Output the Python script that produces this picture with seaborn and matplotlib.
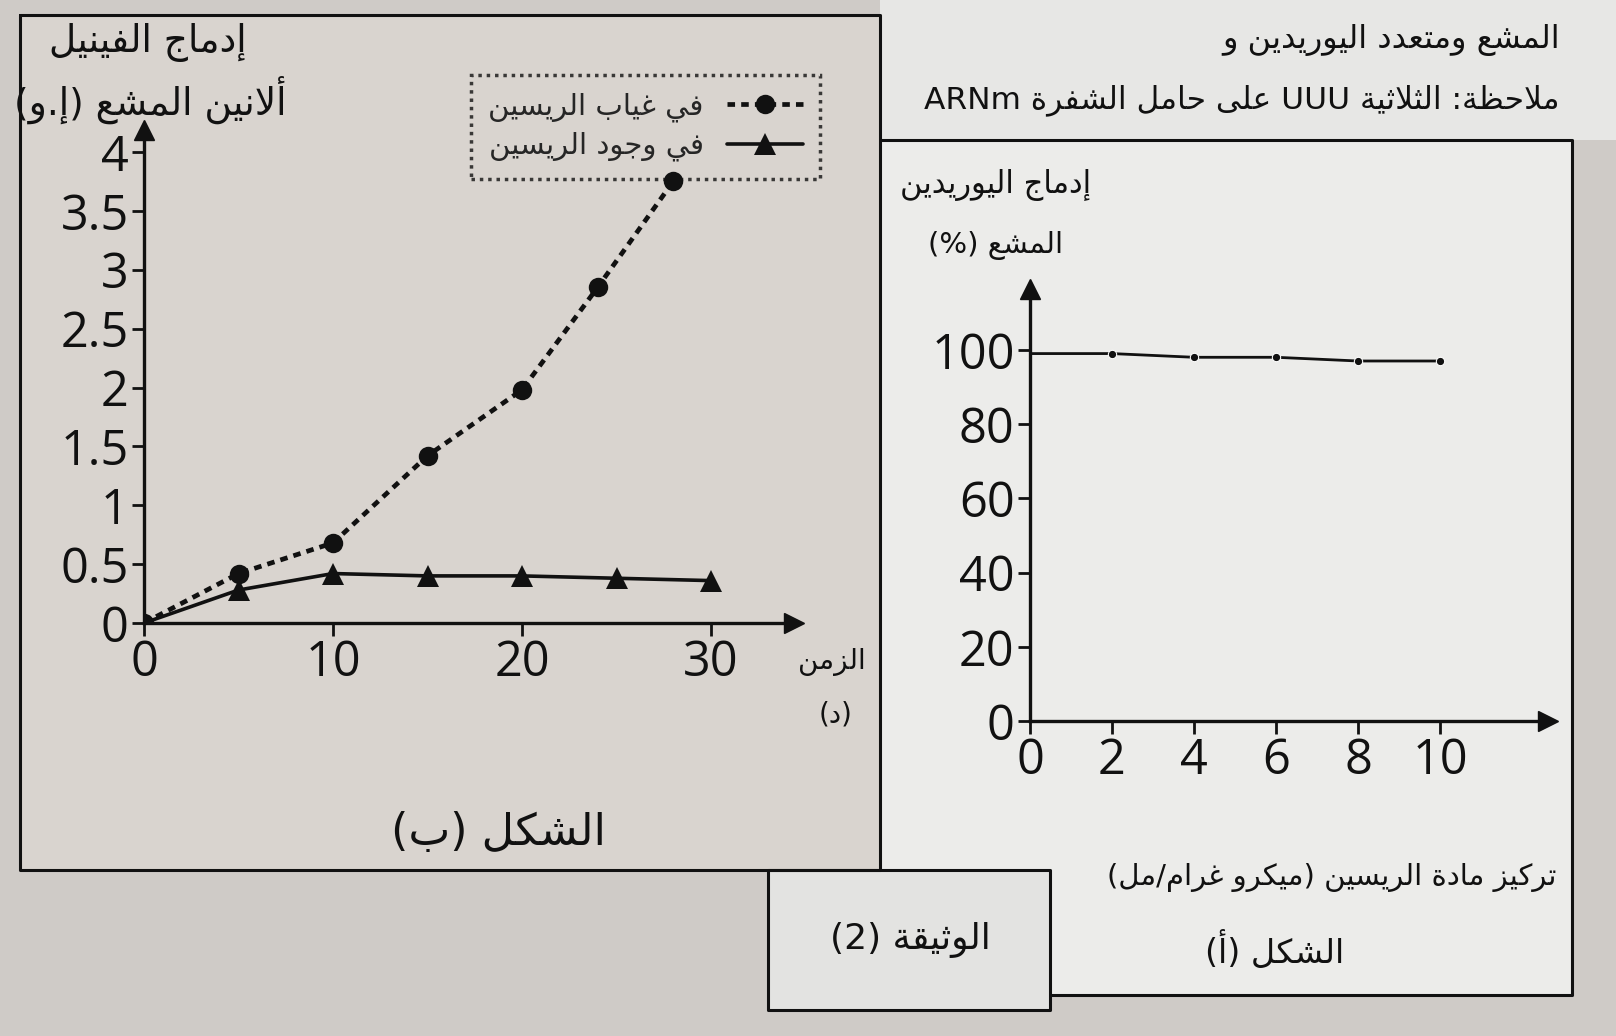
import re
import matplotlib
matplotlib.use("Agg")
import matplotlib.pyplot as plt
from matplotlib.patches import Rectangle, Polygon
from matplotlib.lines import Line2D
import seaborn as sns

# ---------------- data ----------------
# figure (b): radioactive phenylalanine incorporation (a.u.) versus time (min)
time_no_ricin = [0, 5, 10, 15, 20, 24, 28]
phe_no_ricin = [0, 0.42, 0.68, 1.42, 1.98, 2.85, 3.75]
time_ricin = [0, 5, 10, 15, 20, 25, 30]
phe_ricin = [0, 0.28, 0.42, 0.40, 0.40, 0.38, 0.36]
phe_yticks = [0, 0.5, 1, 1.5, 2, 2.5, 3, 3.5, 4]
phe_yticklabels = ["0", "0.5", "1", "1.5", "2", "2.5", "3", "3.5", "4"]
time_xticks = [0, 10, 20, 30]

# figure (a): radioactive uridine incorporation (%) versus ricin concentration
ricin_conc = [0, 2, 4, 6, 8, 10]
uridine_pct = [99, 99, 98, 98, 97, 97]
uridine_yticks = [0, 20, 40, 60, 80, 100]
conc_xticks = [0, 2, 4, 6, 8, 10]

# ---------------- minimal Arabic shaping / visual ordering ----------------
_FORMS = {
    "ء": (0xFE80, 1), "آ": (0xFE81, 2), "أ": (0xFE83, 2), "ؤ": (0xFE85, 2),
    "إ": (0xFE87, 2), "ئ": (0xFE89, 4), "ا": (0xFE8D, 2), "ب": (0xFE8F, 4),
    "ة": (0xFE93, 2), "ت": (0xFE95, 4), "ث": (0xFE99, 4), "ج": (0xFE9D, 4),
    "ح": (0xFEA1, 4), "خ": (0xFEA5, 4), "د": (0xFEA9, 2), "ذ": (0xFEAB, 2),
    "ر": (0xFEAD, 2), "ز": (0xFEAF, 2), "س": (0xFEB1, 4), "ش": (0xFEB5, 4),
    "ص": (0xFEB9, 4), "ض": (0xFEBD, 4), "ط": (0xFEC1, 4), "ظ": (0xFEC5, 4),
    "ع": (0xFEC9, 4), "غ": (0xFECD, 4), "ف": (0xFED1, 4), "ق": (0xFED5, 4),
    "ك": (0xFED9, 4), "ل": (0xFEDD, 4), "م": (0xFEE1, 4), "ن": (0xFEE5, 4),
    "ه": (0xFEE9, 4), "و": (0xFEED, 2), "ى": (0xFEEF, 2), "ي": (0xFEF1, 4),
}
_LAM_ALEF = {"ا": 0xFEFB, "أ": 0xFEF7, "إ": 0xFEF9, "آ": 0xFEF5}
_MIRROR = str.maketrans("()[]", ")(][")
_LTR = r"[A-Za-z0-9]+(?:[.,][0-9]+)*"


def _joins_next(c):
    return isinstance(c, str) and c in _FORMS and _FORMS[c][1] == 4


def _joins_prev(c):
    return isinstance(c, tuple) or (isinstance(c, str) and c in _FORMS and _FORMS[c][1] >= 2)


def shape(text):
    units, i = [], 0
    while i < len(text):
        if text[i] == "ل" and i + 1 < len(text) and text[i + 1] in _LAM_ALEF:
            units.append(("LA", text[i + 1]))
            i += 2
        else:
            units.append(text[i])
            i += 1
    out = []
    for k, c in enumerate(units):
        prev = units[k - 1] if k > 0 else None
        nxt = units[k + 1] if k + 1 < len(units) else None
        jp = prev is not None and _joins_next(prev)
        if isinstance(c, tuple):
            out.append(chr(_LAM_ALEF[c[1]] + (1 if jp else 0)))
            continue
        if c not in _FORMS:
            out.append(c)
            continue
        start, n = _FORMS[c]
        if n == 1:
            out.append(chr(start))
        elif n == 2:
            out.append(chr(start + (1 if jp else 0)))
        else:
            jn = nxt is not None and _joins_prev(nxt)
            f = 3 if (jp and jn) else 1 if jp else 2 if jn else 0
            out.append(chr(start + f))
    return "".join(out)


def rtl(text):
    s = shape(text)
    parts = re.split("(" + _LTR + ")", s)
    out = []
    for p in reversed(parts):
        if p and re.fullmatch(_LTR, p):
            out.append(p)
        else:
            out.append(p[::-1].translate(_MIRROR))
    return "".join(out)


# ---------------- figure ----------------
sns.set_theme(style="white")
plt.rcParams["font.family"] = ["DejaVu Sans"]

W, H = 1616, 1036
fig = plt.figure(figsize=(W / 100, H / 100), dpi=100)
fig.patch.set_facecolor("#cfcbc7")


def fx(px):
    return px / W


def fy(py):
    return 1 - py / H


def ftext(px, py, s, size, ha="center", va="center"):
    fig.text(fx(px), fy(py), s, fontsize=size, ha=ha, va=va,
             family=["DejaVu Sans"], color="#111111")


def fline(pts, lw=2.2):
    fig.add_artist(Line2D([fx(p[0]) for p in pts], [fy(p[1]) for p in pts],
                          color="#111111", lw=lw, zorder=1))


# page background areas and panel frames
fig.add_artist(Rectangle((fx(880), fy(140)), fx(1616) - fx(880), 140 / H,
                         facecolor="#e7e7e5", edgecolor="none", zorder=0))
fig.add_artist(Rectangle((fx(20), fy(870)), (880 - 20) / W, (870 - 15) / H,
                         facecolor="#d9d4cf", edgecolor="none", zorder=0))
fig.add_artist(Polygon([(fx(880), fy(140)), (fx(1572), fy(140)), (fx(1572), fy(995)),
                        (fx(1050), fy(995)), (fx(1050), fy(870)), (fx(880), fy(870))],
                       closed=True, facecolor="#ececea", edgecolor="none", zorder=0))
fig.add_artist(Rectangle((fx(768), fy(1010)), (1050 - 768) / W, (1010 - 870) / H,
                         facecolor="#e3e3e1", edgecolor="none", zorder=0))
fline([(20, 15), (880, 15), (880, 870), (20, 870), (20, 15)])
fline([(880, 140), (1572, 140), (1572, 995), (1050, 995)])
fline([(768, 870), (768, 1010), (1050, 1010), (1050, 870), (768, 870)])


def style_axes(ax):
    ax.patch.set_alpha(0)
    for side in ("top", "right"):
        ax.spines[side].set_visible(False)
    for side in ("left", "bottom"):
        ax.spines[side].set_color("#111111")
        ax.spines[side].set_linewidth(2.4)
    ax.plot(1, 0, marker=">", color="#111111", ms=15, transform=ax.transAxes, clip_on=False)
    ax.plot(0, 1, marker="^", color="#111111", ms=15, transform=ax.transAxes, clip_on=False)
    ax.tick_params(direction="out", length=9, width=2, colors="#111111",
                   labelsize=35, pad=2, bottom=True, left=True)
    ax.set_xlabel("")
    ax.set_ylabel("")
    for lab in ax.get_xticklabels() + ax.get_yticklabels():
        lab.set_fontfamily("Open Sans")


# ---- figure (b) ----
ax1 = fig.add_axes([fx(144), fy(623), (794 - 144) / W, (623 - 130) / H])
sns.lineplot(x=time_no_ricin, y=phe_no_ricin, ax=ax1, color="#111111",
             linestyle=(0, (1.6, 1.3)), lw=3.4, marker="o", markersize=14,
             markeredgewidth=0, label=rtl("في غياب الريسين"))
sns.lineplot(x=time_ricin, y=phe_ricin, ax=ax1, color="#111111", lw=2.6,
             marker="^", markersize=16, markeredgewidth=0,
             label=rtl("في وجود الريسين"))
ax1.set_xlim(0, (794 - 144) / 18.9)
ax1.set_ylim(0, (623 - 130) / 117.75)
ax1.set_xticks(time_xticks)
ax1.set_xticklabels([str(t) for t in time_xticks])
ax1.set_yticks(phe_yticks)
ax1.set_yticklabels(phe_yticklabels)
style_axes(ax1)
leg = ax1.legend(loc="upper right", bbox_to_anchor=(fx(835), fy(60)),
                 bbox_transform=fig.transFigure, markerfirst=False, frameon=True,
                 fancybox=False, prop={"family": "DejaVu Sans", "size": 21},
                 handlelength=2.6, borderpad=0.6, labelspacing=0.35)
frame = leg.get_frame()
frame.set_linestyle((0, (1, 1.4)))
frame.set_linewidth(2.5)
frame.set_edgecolor("#111111")
frame.set_facecolor("none")

ftext(148, 42, rtl("إدماج الفينيل"), 27)
ftext(150, 100, rtl("ألانين المشع (إ.و)"), 27)
ftext(832, 662, rtl("الزمن"), 20)
ftext(836, 714, rtl("(د)"), 20)
ftext(498, 832, rtl("الشكل (ب)"), 32)

# ---- figure (a) ----
ax2 = fig.add_axes([fx(1030), fy(721), (1548 - 1030) / W, (721 - 289) / H])
sns.lineplot(x=ricin_conc, y=uridine_pct, ax=ax2, color="#111111", lw=2.0,
             marker="o", markersize=6, markevery=list(range(1, len(ricin_conc))))
ax2.set_xlim(0, (1548 - 1030) / 41.0)
ax2.set_ylim(0, 116.4)
ax2.set_xticks(conc_xticks)
ax2.set_xticklabels([str(c) for c in conc_xticks])
ax2.set_yticks(uridine_yticks)
ax2.set_yticklabels([str(v) for v in uridine_yticks])
style_axes(ax2)

ftext(996, 185, rtl("إدماج اليوريدين"), 22)
ftext(996, 245, rtl("المشع (%)"), 21)
ftext(1556, 878, rtl("تركيز مادة الريسين (ميكرو غرام/مل)"), 21, ha="right")
ftext(1275, 950, rtl("الشكل (أ)"), 24)

# ---- document caption and note ----
ftext(910, 940, rtl("الوثيقة (2)"), 26)
ftext(1560, 40, rtl("المشع ومتعدد اليوريدين و"), 23, ha="right")
ftext(1560, 100, rtl("ملاحظة: الثلاثية UUU على حامل الشفرة ARNm"), 22.5, ha="right")

fig.savefig("out.png", dpi=100, facecolor=fig.get_facecolor())
